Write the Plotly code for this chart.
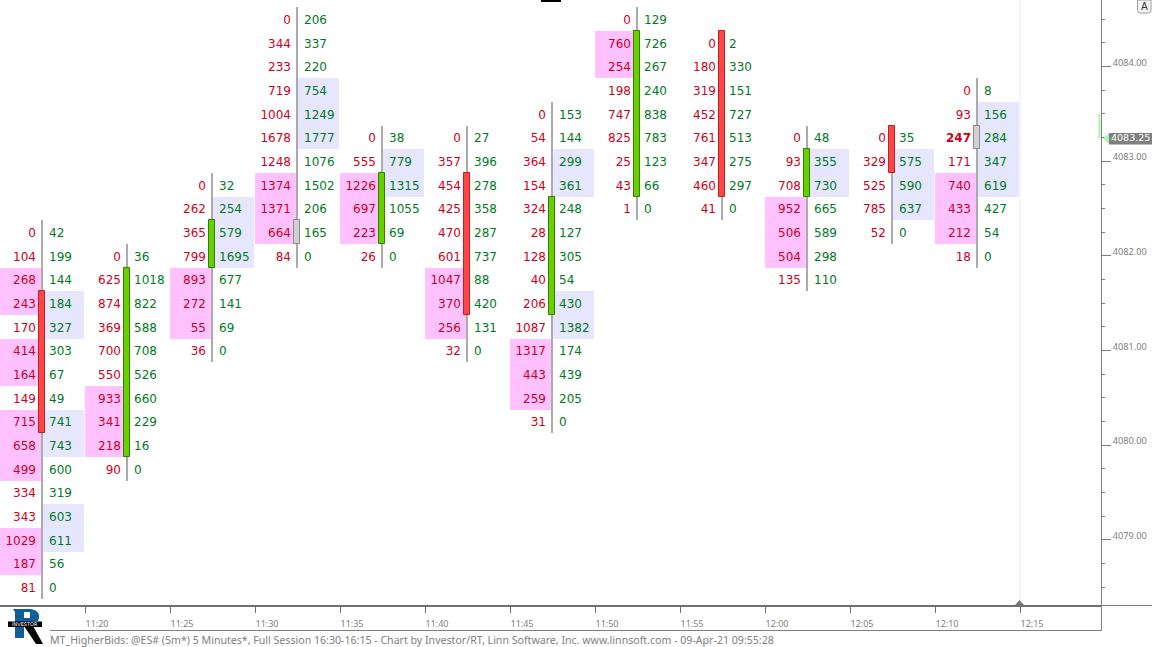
import plotly.graph_objects as go

# ---------- data ----------
bar_minutes = [677.5, 682.5, 687.5, 692.5, 697.5, 702.5, 707.5, 712.5, 717.5, 722.5, 727.5, 732.5]
top_price = [4082.25, 4082.0, 4082.75, 4084.5, 4083.25, 4083.25, 4083.5, 4084.5, 4084.25, 4083.25, 4083.25, 4083.75]
open_price = [4081.5, 4080.0, 4082.0, 4082.25, 4082.25, 4082.75, 4081.5, 4082.75, 4084.25, 4082.75, 4083.25, 4083.25]
close_price = [4080.25, 4081.75, 4082.25, 4082.25, 4082.75, 4081.5, 4082.5, 4084.25, 4082.75, 4083.0, 4083.0, 4083.25]

bids = [
    [0, 104, 268, 243, 170, 414, 164, 149, 715, 658, 499, 334, 343, 1029, 187, 81],
    [0, 625, 874, 369, 700, 550, 933, 341, 218, 90],
    [0, 262, 365, 799, 893, 272, 55, 36],
    [0, 344, 233, 719, 1004, 1678, 1248, 1374, 1371, 664, 84],
    [0, 555, 1226, 697, 223, 26],
    [0, 357, 454, 425, 470, 601, 1047, 370, 256, 32],
    [0, 54, 364, 154, 324, 28, 128, 40, 206, 1087, 1317, 443, 259, 31],
    [0, 760, 254, 198, 747, 825, 25, 43, 1],
    [0, 180, 319, 452, 761, 347, 460, 41],
    [0, 93, 708, 952, 506, 504, 135],
    [0, 329, 525, 785, 52],
    [0, 93, 247, 171, 740, 433, 212, 18],
]
asks = [
    [42, 199, 144, 184, 327, 303, 67, 49, 741, 743, 600, 319, 603, 611, 56, 0],
    [36, 1018, 822, 588, 708, 526, 660, 229, 16, 0],
    [32, 254, 579, 1695, 677, 141, 69, 0],
    [206, 337, 220, 754, 1249, 1777, 1076, 1502, 206, 165, 0],
    [38, 779, 1315, 1055, 69, 0],
    [27, 396, 278, 358, 287, 737, 88, 420, 131, 0],
    [153, 144, 299, 361, 248, 127, 305, 54, 430, 1382, 174, 439, 205, 0],
    [129, 726, 267, 240, 838, 783, 123, 66, 0],
    [2, 330, 151, 727, 513, 275, 297, 0],
    [48, 355, 730, 665, 589, 298, 110],
    [35, 575, 590, 637, 0],
    [8, 156, 284, 347, 619, 427, 54, 0],
]
# row indexes (from the top of each bar) that carry a highlight
pink_rows = [
    [2, 3, 5, 6, 8, 9, 10, 13, 14], [6, 7, 8], [4, 5, 6], [7, 8, 9], [2, 3, 4], [6, 7, 8],
    [10, 11, 12], [1, 2], [], [3, 4, 5], [], [4, 5, 6],
]
lavender_rows = [
    [3, 4, 8, 9, 12, 13], [], [1, 2, 3], [3, 4, 5], [1, 2], [], [2, 3, 8, 9],
    [], [], [1, 2], [1, 2, 3], [1, 2, 3, 4],
]
bold_bids = {(11, 2)}
time_ticks = [680, 685, 690, 695, 700, 705, 710, 715, 720, 725, 730, 735]
time_labels = ["11:20", "11:25", "11:30", "11:35", "11:40", "11:45", "11:50", "11:55", "12:00", "12:05", "12:10", "12:15"]
price_ticks = [4079, 4080, 4081, 4082, 4083, 4084]
last_price = 4083.25
footer = ("MT_HigherBids: @ES# (5m*) 5 Minutes*, Full Session 16:30-16:15 - Chart by Investor/RT, "
          "Linn Software, Inc. www.linnsoft.com - 09-Apr-21 09:55:28")

# ---------- geometry ----------
W, H = 1152, 647
PW, PH = 1101, 605
PX_PER_MIN = 17.0
PX_PER_PT = 94.67
TICK = 0.25
x0 = 675.0
x_range = [x0, x0 + PW / PX_PER_MIN]
y_range = [4084.5 - 586 / PX_PER_PT, 4084.5 + 19 / PX_PER_PT]

def px(n):
    return n / PX_PER_MIN

def fx(p):
    return p / PW

def fy(p):
    return 1 - p / PH

BID_C = "#cc0022"
ASK_C = "#007a1e"
PINK = "#ffc1ff"
LAV = "#e6e6fe"
GREY = "#808080"
TEXT_DROP = 2 / PX_PER_PT

# flatten
bid_x, bid_y, bid_t, ask_x, ask_y, ask_t = [], [], [], [], [], []
pk_x, pk_b, lv_x, lv_b = [], [], [], []
wick_x, wick_b, wick_h = [], [], []
bodies = {"up": ([], [], []), "down": ([], [], []), "flat": ([], [], [])}
for i, m in enumerate(bar_minutes):
    n = len(bids[i])
    for r in range(n):
        p = top_price[i] - r * TICK
        bid_x.append(m - px(6.5)); bid_y.append(p - TEXT_DROP)
        t = str(bids[i][r])
        bid_t.append(f"<b>{t}</b>" if (i, r) in bold_bids else t)
        ask_x.append(m + px(6.5)); ask_y.append(p - TEXT_DROP)
        ask_t.append(str(asks[i][r]))
        if r in pink_rows[i]:
            pk_x.append(m - px(22)); pk_b.append(p - TICK / 2)
        if r in lavender_rows[i]:
            lv_x.append(m + px(21)); lv_b.append(p - TICK / 2)
    wick_x.append(m - px(0.5))
    wick_b.append(top_price[i] - (n - 1) * TICK - TICK / 2)
    wick_h.append(n * TICK)
    o, c = open_price[i], close_price[i]
    key = "up" if c > o else "down" if c < o else "flat"
    lo, hi = min(o, c), max(o, c)
    bodies[key][0].append(m - px(0.5))
    bodies[key][1].append(lo - TICK / 2)
    bodies[key][2].append(hi - lo + TICK)

fig = go.Figure()
fig.add_bar(x=pk_x, y=[TICK] * len(pk_x), base=pk_b, width=px(41), marker=dict(color=PINK, line_width=0), name="bid imbalance")
fig.add_bar(x=lv_x, y=[TICK] * len(lv_x), base=lv_b, width=px(41), marker=dict(color=LAV, line_width=0), name="ask imbalance")
fig.add_bar(x=wick_x, y=wick_h, base=wick_b, width=px(2.4), marker=dict(color="#ababab", line_width=0), name="range")
body_style = {"up": ("#66d000", "#338000"), "down": ("#ff4646", "#c02020"), "flat": ("#d0d0d0", "#8c8c8c")}
for k, (xs, bs, hs) in bodies.items():
    fill, edge = body_style[k]
    fig.add_bar(x=xs, y=hs, base=bs, width=px(6), marker=dict(color=fill, line=dict(color=edge, width=1)), name=k)

fig.add_scatter(x=bid_x, y=bid_y, text=bid_t, mode="text", textposition="middle left",
                textfont=dict(family="DejaVu Sans", size=12, color=BID_C), name="bid")
fig.add_scatter(x=ask_x, y=ask_y, text=ask_t, mode="text", textposition="middle right",
                textfont=dict(family="DejaVu Sans", size=12, color=ASK_C), name="ask")

shapes = [
    dict(type="line", xref="paper", yref="paper", x0=fx(1020), x1=fx(1020), y0=fy(0), y1=fy(605), line=dict(color="#eeeeee", width=1), layer="below"),
    dict(type="path", xref="paper", yref="paper", path=f"M {fx(1015)} {fy(605)} L {fx(1019.5)} {fy(600)} L {fx(1024)} {fy(605)} Z", fillcolor="#777777", line_width=0),
    # frame below the time axis
    dict(type="line", xref="paper", yref="paper", x0=fx(50), x1=fx(1101.5), y0=fy(630.5), y1=fy(630.5), line=dict(color="#808080", width=1)),
    dict(type="line", xref="paper", yref="paper", x0=fx(1101.5), x1=fx(1101.5), y0=fy(605), y1=fy(630.5), line=dict(color="#808080", width=1)),
    dict(type="line", xref="paper", yref="paper", x0=fx(1101.5), x1=fx(1152), y0=fy(605.5), y1=fy(605.5), line=dict(color="#808080", width=1)),
    # last price marker
    dict(type="line", xref="paper", yref="paper", x0=fx(1099.5), x1=fx(1099.5), y0=fy(114), y1=fy(138), line=dict(color="#a8f5a8", width=2)),
    dict(type="line", xref="paper", yref="paper", x0=fx(1097), x1=fx(1100), y0=fy(138), y1=fy(138), line=dict(color="#a8f5a8", width=1)),
    dict(type="path", xref="paper", yref="paper", path=f"M {fx(1103)} {fy(138.5)} L {fx(1109)} {fy(133)} L {fx(1109)} {fy(144)} Z", fillcolor="#a8f5a8", line_width=0),
    dict(type="rect", xref="paper", yref="paper", x0=fx(1109), x1=fx(1152), y0=fy(133), y1=fy(144.5), fillcolor="#808080", line_width=0),
    # auto-scale button
    dict(type="path", xref="paper", yref="paper", fillcolor="#f2f2f2", line=dict(color="#a0a0a0", width=1),
         path=" ".join([f"M {fx(1137.5)} {fy(0)}", f"L {fx(1151)} {fy(0)}", f"L {fx(1151)} {fy(10.5)}", f"Q {fx(1151)} {fy(13)} {fx(1148.5)} {fy(13)}",
                        f"L {fx(1140)} {fy(13)}", f"Q {fx(1137.5)} {fy(13)} {fx(1137.5)} {fy(10.5)}", "Z"])),
    # clipped tool at the top edge
    dict(type="rect", xref="paper", yref="paper", x0=fx(541), x1=fx(561), y0=fy(0), y1=fy(2), fillcolor="#000000", line_width=0),
    # logo
    dict(type="path", xref="paper", yref="paper", fillcolor="#0f5f96", line_width=0,
         path=" ".join([f"M {fx(13)} {fy(609)}", f"L {fx(31)} {fy(609)}", f"Q {fx(42)} {fy(611)} {fx(38)} {fy(621)}", f"L {fx(24)} {fy(623)}", f"L {fx(24)} {fy(638)}", f"L {fx(15)} {fy(638)}", f"L {fx(15)} {fy(612)}", "Z"])),
    dict(type="rect", xref="paper", yref="paper", x0=fx(24), x1=fx(30), y0=fy(612), y1=fy(618), fillcolor="#ffffff", line_width=0),
    dict(type="path", xref="paper", yref="paper", fillcolor="#000000", line_width=0,
         path=" ".join([f"M {fx(24)} {fy(626)}", f"L {fx(33)} {fy(626)}", f"L {fx(43)} {fy(644)}", f"L {fx(36)} {fy(644)}", "Z"])),
    dict(type="rect", xref="paper", yref="paper", x0=fx(8), x1=fx(42), y0=fy(621.5), y1=fy(627), fillcolor="#000000", line_width=0),
]

annotations = [
    dict(x=fx(48), y=fy(640), xref="paper", yref="paper", xanchor="left", yanchor="middle", text=footer, showarrow=False,
         font=dict(family="Noto Sans", size=10.6, color="#808080")),
    dict(x=1, y=last_price, xref="paper", yref="y", xanchor="left", yanchor="middle", text=f"{last_price:.2f}", showarrow=False,
         xshift=8, font=dict(family="DejaVu Sans", size=9.5, color="#ffffff")),
    dict(x=fx(1144), y=fy(6.5), xref="paper", yref="paper", xanchor="center", yanchor="middle", text="A", showarrow=False,
         font=dict(family="DejaVu Sans", size=10, color="#333333")),
    dict(x=fx(25), y=fy(624.2), xref="paper", yref="paper", xanchor="center", yanchor="middle", text="INVESTOR", showarrow=False,
         font=dict(family="DejaVu Sans", size=5, color="#ffffff")),
]

fig.update_layout(
    width=W, height=H, autosize=False,
    margin=dict(l=0, r=W - PW, t=0, b=H - PH, pad=0),
    paper_bgcolor="#ffffff", plot_bgcolor="#ffffff", showlegend=False, barmode="overlay",
    bargap=0, shapes=shapes, annotations=annotations,
    hovermode=False,
)
fig.update_xaxes(
    range=x_range, tickmode="array", tickvals=time_ticks, ticktext=time_labels,
    ticks="outside", ticklen=6, tickcolor="#707070", tickwidth=1,
    showgrid=False, zeroline=False, showline=True, linecolor="#707070", linewidth=2,
    tickfont=dict(family="Noto Sans", size=9, color="#808080"),
    ticklabelshift=12, ticklabelstandoff=3, fixedrange=True,
)
fig.update_yaxes(
    range=y_range, side="right", tickmode="array", tickvals=price_ticks,
    ticktext=[f"{p:.2f}" for p in price_ticks],
    ticks="outside", ticklen=9, tickcolor="#808080", tickwidth=1,
    minor=dict(dtick=TICK, tick0=4079, ticks="outside", ticklen=3, tickcolor="#808080", tickwidth=1, showgrid=False),
    showgrid=False, zeroline=False, showline=True, linecolor="#808080", linewidth=1,
    tickfont=dict(family="Noto Sans", size=9.2, color="#808080"),
    ticklabelshift=-4, fixedrange=True,
)
fig.write_html("out.html", config=dict(displayModeBar=False),
               post_script="document.body.style.margin='0';document.documentElement.style.overflow='hidden';")
